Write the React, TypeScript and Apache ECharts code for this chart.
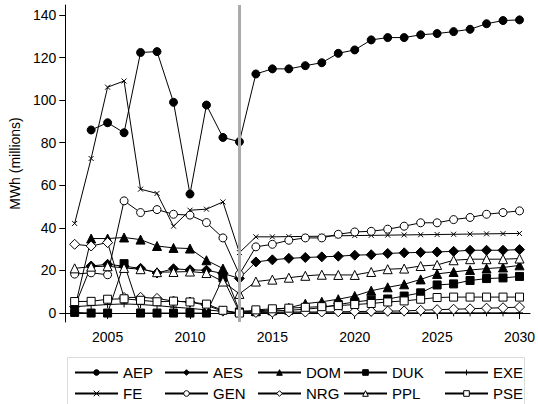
import React, { useEffect, useRef } from "react";
import * as echarts from "echarts";

// Years 2003..2030
const years: number[] = [];
for (let y = 2003; y <= 2030; y++) years.push(y);

const aep = [null, 86.0, 89.4, 84.7, 122.4, 122.8, 99.0, 55.9, 97.7, 82.5, 80.5,
  112.3, 114.7, 114.7, 116.2, 117.6, 122.0, 123.6, 128.3, 129.4, 129.4, 130.7, 131.3, 132.2, 133.3, 135.9, 137.4, 137.7];
const aes = [3.0, 22.1, 22.9, 22.0, 21.0, 18.8, 20.8, 20.3, 20.1, 18.6, 16.3,
  24.0, 25.0, 25.7, 26.1, 26.4, 26.7, 27.2, 27.4, 28.0, 28.3, 28.5, 28.7, 29.0, 29.5, 29.5, 29.5, 29.8];
const dom = [2.0, 35.0, 35.0, 35.5, 34.5, 31.5, 30.6, 30.3, 24.8, 20.9, 1.0,
  1.0, 1.5, 2.5, 4.4, 5.3, 6.5, 8.0, 10.5, 12.1, 13.5, 15.8, 18.4, 19.3, 20.2, 20.9, 21.4, 22.4];
const duk = [0.3, 0.0, 0.0, 23.2, 0.0, 0.0, 0.0, 0.0, 0.0, 16.5, 0.5,
  0.6, 1.0, 1.3, 1.8, 2.5, 4.0, 5.2, 6.1, 6.6, 8.0, 9.5, 13.2, 13.7, 15.3, 16.2, 16.5, 17.2];
const exe = [3.0, 3.5, 4.0, 4.3, 4.0, 3.5, 2.8, 2.2, 1.5, 0.8, 0.0,
  0.1, 0.1, 0.1, 0.1, 0.1, 0.1, 0.1, 0.1, 0.1, 0.1, 0.1, 0.1, 0.1, 0.1, 0.1, 0.1, 0.1];
const fe = [42.1, 72.6, 106.1, 109.0, 58.2, 56.2, 40.8, 48.3, 48.8, 52.2, 28.4,
  35.8, 35.8, 35.9, 36.0, 36.1, 36.3, 36.4, 36.5, 36.6, 36.7, 36.8, 36.9, 37.0, 37.1, 37.2, 37.3, 37.4];
const gen = [18.3, 18.9, 18.0, 52.7, 47.2, 48.6, 46.4, 46.0, 42.5, 35.3, 18.2,
  31.1, 32.3, 34.2, 35.3, 35.3, 37.0, 38.1, 38.4, 39.4, 40.8, 42.4, 42.4, 43.9, 44.9, 46.4, 47.2, 48.0];
const nrg = [32.3, 31.5, 33.1, 7.3, 7.4, 6.9, 5.6, 5.2, 3.6, 0.9, 0.0,
  0.3, 0.4, 0.5, 0.5, 0.5, 0.6, 0.7, 0.8, 0.9, 1.0, 1.3, 1.6, 1.8, 2.0, 2.3, 2.5, 2.8];
const ppl = [21.0, 21.8, 22.0, 21.2, 20.6, 19.2, 19.3, 19.5, 18.8, 14.8, 9.0,
  14.8, 15.7, 16.6, 17.5, 18.0, 17.9, 17.9, 19.3, 20.6, 20.9, 22.1, 22.6, 24.8, 25.3, 25.3, 25.3, 25.6];
const pse = [5.4, 5.5, 6.5, 6.7, 6.0, 5.3, 5.6, 5.2, 4.2, 1.3, 0.0,
  1.5, 2.0, 2.3, 2.7, 3.0, 3.5, 4.0, 4.5, 5.2, 5.7, 6.5, 7.3, 7.5, 7.5, 7.5, 7.5, 7.5];

const xTicks = [2005, 2010, 2015, 2020, 2025, 2030];
const yTicks = [0, 20, 40, 60, 80, 100, 120, 140];
const breakYear = 2013;

const FONT = "Liberation Sans, Arial, Helvetica, sans-serif";
const PLUS = "path://M5,0L5,10M0,5L10,5";
const CROSS = "path://M0,0L10,10M10,0L0,10";

type Spec = { name: string; values: (number | null)[]; symbol: string; size: number; open: boolean };

const specs: Spec[] = [
  { name: "AEP", values: aep, symbol: "circle", size: 8, open: false },
  { name: "AES", values: aes, symbol: "diamond", size: 10, open: false },
  { name: "DOM", values: dom, symbol: "triangle", size: 9, open: false },
  { name: "DUK", values: duk, symbol: "rect", size: 8, open: false },
  { name: "EXE", values: exe, symbol: PLUS, size: 7, open: false },
  { name: "FE", values: fe, symbol: CROSS, size: 5, open: false },
  { name: "GEN", values: gen, symbol: "circle", size: 8, open: true },
  { name: "NRG", values: nrg, symbol: "diamond", size: 10, open: true },
  { name: "PPL", values: ppl, symbol: "triangle", size: 9, open: true },
  { name: "PSE", values: pse, symbol: "rect", size: 8, open: true },
];

// legend cell anchors (icon left edge, row top)
const legendCols = [74, 164, 257, 343, 444];
const legendRows = [365, 386];

export default function App() {
  const ref = useRef<HTMLDivElement>(null);
  useEffect(() => {
    if (!ref.current) return;
    const chart = echarts.init(ref.current, null, { renderer: "svg" });

    const series: any[] = specs.map((s) => ({
      name: s.name,
      type: "line",
      z: 3,
      data: years.map((y, i) => [y, s.values[i]]),
      connectNulls: false,
      symbol: s.symbol,
      symbolSize: s.size,
      showAllSymbol: true,
      lineStyle: { color: "#000", width: 1 },
      itemStyle: {
        color: s.open ? "#fff" : "#000",
        borderColor: "#000",
        borderWidth: 1,
      },
      emphasis: { disabled: true },
    }));

    // gray reference line at the break year
    series.unshift({
      name: "break",
      type: "line",
      z: 1,
      data: [],
      markLine: {
        silent: true,
        symbol: ["none", "none"],
        label: { show: false },
        lineStyle: { color: "#aaaaaa", width: 3, type: "solid" },
        data: [{ xAxis: breakYear }],
      },
    });

    const legends = specs.map((s, i) => ({
      data: [s.name],
      left: legendCols[i % 5],
      top: legendRows[Math.floor(i / 5)],
      padding: 0,
      itemWidth: 43,
      itemHeight: 7,
      itemGap: 0,
      selectedMode: false,
      itemStyle: { borderWidth: 1 },
      textStyle: { fontSize: 15, color: "#000", fontFamily: FONT },
    }));

    chart.setOption({
      animation: false,
      backgroundColor: "#fff",
      textStyle: { fontFamily: FONT },
      grid: { left: 62, right: 6, top: 5, bottom: 82 },
      legend: legends,
      graphic: [
        {
          type: "rect",
          shape: { x: 67.5, y: 357.5, width: 457, height: 52 },
          style: { fill: "none", stroke: "#dcdcdc", lineWidth: 1 },
          z: 0,
        },
      ],
      xAxis: {
        type: "value",
        min: 2002.43,
        max: 2030.64,
        axisLine: { lineStyle: { color: "#000", width: 1 } },
        axisTick: { show: true, length: 6, lineStyle: { color: "#000" }, customValues: xTicks },
        axisLabel: {
          color: "#000",
          fontSize: 14,
          margin: 8,
          fontFamily: FONT,
          customValues: xTicks,
          formatter: (v: number) => String(v),
        },
        splitLine: { show: false },
      },
      yAxis: {
        type: "value",
        min: -4.2,
        max: 144.7,
        name: "MWh (millions)",
        nameLocation: "middle",
        nameGap: 31,
        nameTextStyle: { color: "#000", fontSize: 14, fontFamily: FONT },
        axisLine: { show: true, lineStyle: { color: "#000", width: 1 } },
        axisTick: { show: true, length: 6, lineStyle: { color: "#000" }, customValues: yTicks },
        axisLabel: {
          color: "#000",
          fontSize: 14,
          margin: 9,
          fontFamily: FONT,
          customValues: yTicks,
          formatter: (v: number) => String(v),
        },
        splitLine: { show: false },
      },
      series,
    });
    return () => chart.dispose();
  }, []);
  return (
    <div
      ref={ref}
      style={{ position: "fixed", left: 0, top: 0, width: 538, height: 404, background: "#fff" }}
    />
  );
}
